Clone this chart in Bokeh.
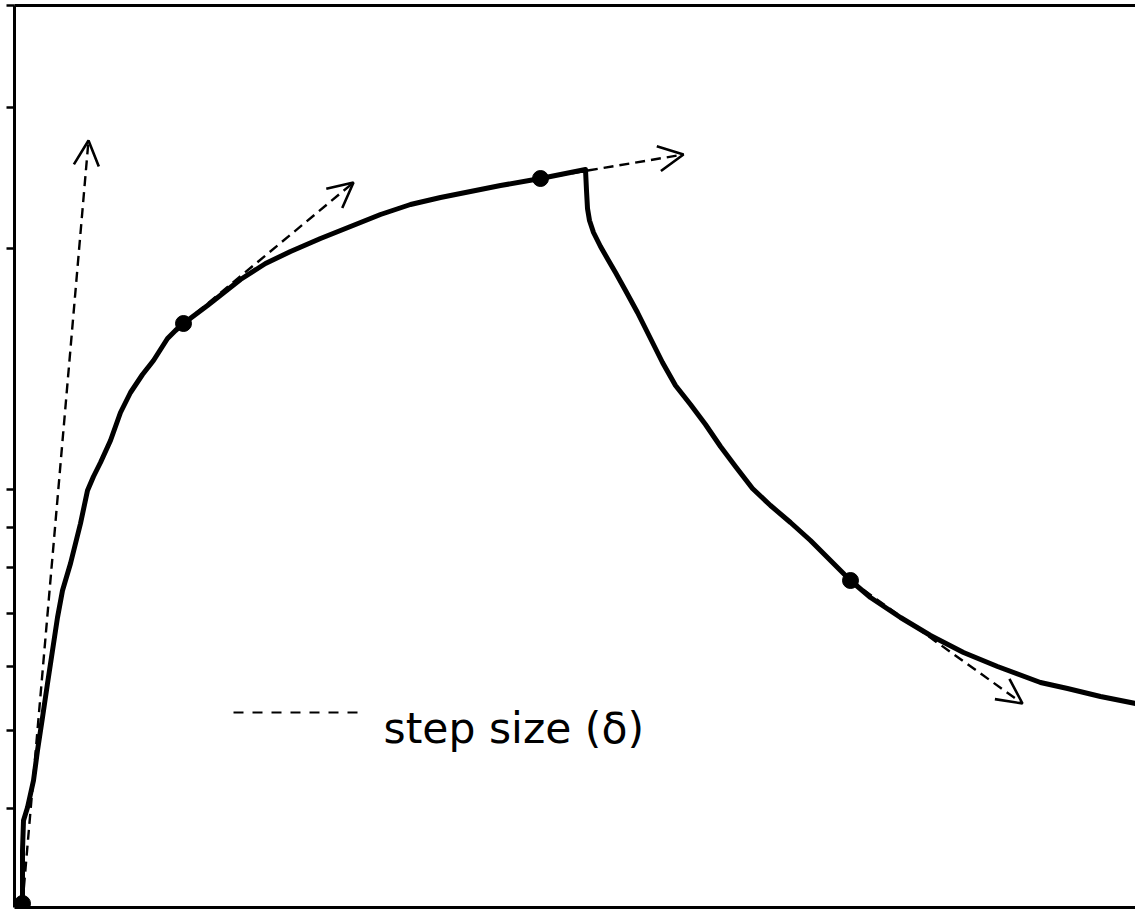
from bokeh.plotting import figure
from bokeh.models import (Range1d, FixedTicker, LinearAxis, Arrow, OpenHead,
                          ColumnDataSource, CustomJSTickFormatter)
from bokeh.core.properties import value
from bokeh.embed import file_html
from bokeh.resources import INLINE

# chart units: x to the right of the left axis, y up from the bottom axis
curve_x = [8, 8, 8, 9, 13, 19, 23, 28, 33, 38, 43, 48, 56, 66, 73, 79, 86, 96, 106, 116,
           128, 139, 146, 153, 161, 169, 193, 226, 251, 276, 306, 336, 366, 396, 426, 456, 486,
           526, 571, 572, 573, 575, 579, 586, 594, 601, 611, 623, 636, 648, 661, 676, 691, 706, 721,
           738, 756, 776, 796, 816, 836, 856, 886, 916, 949, 983, 1026, 1053, 1086, 1121]
curve_y = [4, 27, 57, 87, 100, 127, 157, 190, 224, 257, 290, 317, 344, 384, 417, 431, 445,
           467, 495, 515, 533, 547, 558, 569, 577, 584, 602, 628, 644, 656, 669, 681, 693, 703,
           710, 716, 722, 729, 738, 717, 699, 687, 675, 661, 647, 635, 617, 595, 569, 545, 522, 503,
           483, 461, 441, 419, 402, 385, 367, 347, 327, 310, 290, 272, 255, 241, 225, 219,
           211, 204]

# points where a step starts
point_x = [8, 169, 526, 836]
point_y = [4, 584, 729, 327]

# step (delta) arrow tips
step_end_x = [74, 339, 669, 1008]
step_end_y = [767, 725, 753, 204]

# legend
legend_x = [219, 351]
legend_y = [195, 195]
legend_label = "step size (δ)"
legend_text_x = [369]
legend_text_y = [179]

# left axis ticks
y_ticks = [99, 177, 241, 294, 340, 380, 418, 659, 800, 902]

p = figure(width=1135, height=910, output_backend="svg", toolbar_location=None,
           x_range=Range1d(0, 1121), y_range=Range1d(0, 902),
           min_border_left=14, min_border_right=0, min_border_top=5, min_border_bottom=3,
           background_fill_color="white", border_fill_color="white")
p.outline_line_color = None
p.grid.visible = False

# left axis
ya = p.yaxis[0]
ya.ticker = FixedTicker(ticks=y_ticks)
ya.formatter = CustomJSTickFormatter(code="return ''")
ya.major_label_text_font_size = "1px"
ya.major_label_standoff = 0
ya.major_tick_out = 8
ya.major_tick_in = 0
ya.minor_tick_out = 0
ya.minor_tick_in = 0
ya.axis_line_width = 3
ya.major_tick_line_width = 2.5
ya.axis_line_color = "black"
ya.major_tick_line_color = "black"

def plain_axis(ax):
    ax.ticker = FixedTicker(ticks=[])
    ax.major_label_text_font_size = "1px"
    ax.major_label_standoff = 0
    ax.major_tick_out = 0
    ax.major_tick_in = 0
    ax.minor_tick_out = 0
    ax.minor_tick_in = 0
    ax.axis_line_width = 3
    ax.axis_line_color = "black"

plain_axis(p.xaxis[0])
top = LinearAxis()
plain_axis(top)
p.add_layout(top, "above")

# main curve
p.line(curve_x, curve_y, line_color="black", line_width=5, line_join="round")

# step arrows
src = ColumnDataSource(dict(x0=point_x, y0=point_y, x1=step_end_x, y1=step_end_y))
p.add_layout(Arrow(x_start="x0", y_start="y0", x_end="x1", y_end="y1", source=src,
                   line_color="black", line_width=2.4, line_dash="10 6",
                   end=OpenHead(size=25, line_width=2.6, line_color="black")))

# points
p.scatter(point_x, point_y, size=16, fill_color="black", line_color="black")

# legend
p.line(legend_x, legend_y, line_color="black", line_width=2.2, line_dash="10 9")
p.text(legend_text_x, legend_text_y, text=[legend_label], text_font=value("DejaVu Sans"),
       text_font_size="42.5px", text_color="black", text_baseline="alphabetic",
       text_align="left")

open("out.html", "w").write(file_html(p, INLINE))
